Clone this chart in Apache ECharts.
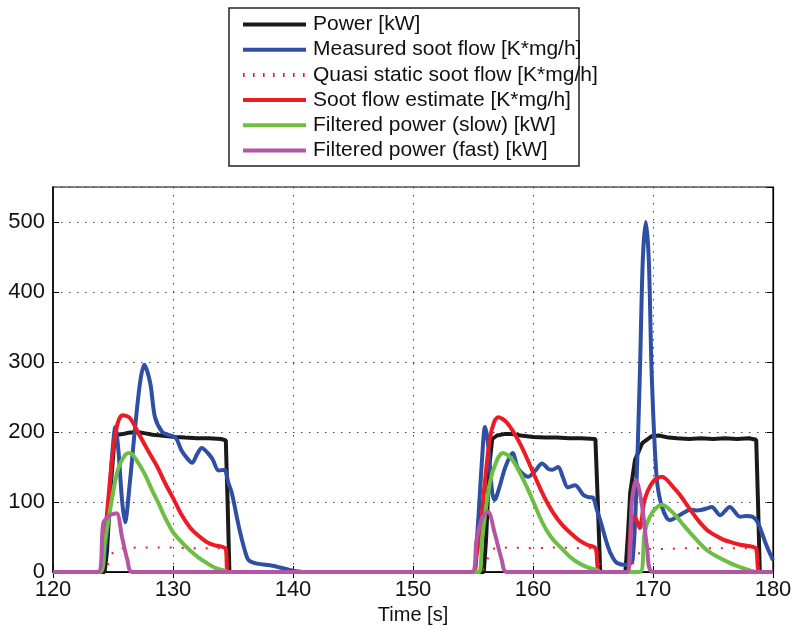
<!DOCTYPE html>
<html>
<head>
<meta charset="utf-8">
<script src="https://cdn.jsdelivr.net/npm/echarts@6/dist/echarts.min.js"></script>
<style>
  html, body { margin: 0; padding: 0; background: #fff; }
  #chart { width: 795px; height: 633px; }
</style>
</head>
<body>
<div id="chart"></div>
<script>
// Soot flow vs. power, time in s
const seriesNames = [
  "Power [kW]",
  "Measured soot flow [K*mg/h]",
  "Quasi static soot flow [K*mg/h]",
  "Soot flow estimate [K*mg/h]",
  "Filtered power (slow) [kW]",
  "Filtered power (fast) [kW]"
];
const xTicks = [120, 130, 140, 150, 160, 170, 180];
const yTicks = [0, 100, 200, 300, 400, 500];

const power = [
  [120, 0], [124.3, 0], [124.5, 30], [124.8, 120], [125.1, 185], [125.4, 196], [125.8, 197],
  [126.3, 199], [127, 200], [127.7, 198], [128.3, 196], [129, 195], [129.6, 194], [130.2, 193],
  [131, 192], [132, 191], [133, 191], [134, 190], [134.4, 188], [134.55, 100], [134.7, 0],
  [155.9, 0], [156.1, 50], [156.35, 150], [156.6, 190], [157, 195], [157.6, 197], [158.3, 197],
  [159, 195], [160, 193], [161, 192], [162, 192], [163, 191], [164, 191], [165.2, 190],
  [165.4, 100], [165.6, 0], [167.7, 0], [167.9, 50], [168.1, 113], [168.5, 160], [169.1, 184],
  [169.9, 194], [170.5, 195], [171.3, 192], [172, 191], [173, 190], [174, 191], [175, 190],
  [176, 191], [177, 190], [178, 191], [178.6, 189], [178.75, 100], [178.9, 0], [180, 0]
];
const measured = [
  [120, 0], [123.9, 0], [124.3, 25], [124.6, 79], [124.9, 160], [125.2, 207], [125.45, 174],
  [125.75, 103], [126, 71], [126.4, 127], [126.8, 199], [127.25, 270], [127.6, 296], [128.1, 270],
  [128.5, 221], [129.1, 200], [129.6, 196], [130, 194], [130.3, 190], [130.7, 174], [131.2, 162],
  [131.6, 156], [132, 168], [132.4, 177], [132.9, 170], [133.3, 161], [133.8, 145], [134.3, 146],
  [134.6, 128], [134.9, 113], [135.3, 80], [135.6, 56], [136, 30], [136.3, 17], [137, 12],
  [138.3, 9], [139.7, 3], [141, 0], [155, 0], [155.3, 41], [155.75, 160], [156, 207],
  [156.25, 184], [156.6, 113], [156.8, 103], [157.2, 121], [157.7, 150], [158.3, 170],
  [158.7, 150], [159.1, 141], [159.6, 136], [160.2, 145], [160.75, 155], [161.3, 147],
  [161.6, 146], [162.1, 150], [162.5, 135], [162.9, 121], [163.5, 124], [164.2, 110],
  [164.6, 107], [165, 106], [165.3, 90], [165.6, 74], [166.25, 36], [166.6, 22], [167, 13],
  [167.8, 10], [168.1, 12], [168.3, 17], [168.55, 89], [168.9, 279], [169.15, 446], [169.4, 500],
  [169.65, 446], [169.9, 279], [170.3, 136], [170.75, 93], [171.4, 74], [172, 79], [172.7, 86],
  [173.1, 89], [173.6, 88], [174.1, 89], [174.5, 91], [174.9, 93], [175.6, 81], [176.4, 93],
  [177.25, 79], [177.8, 80], [178.3, 79], [178.75, 70], [179.5, 36], [180, 17]
];
const quasiStatic = [
  [120, 0], [124.4, 0], [124.6, 12], [124.9, 26], [125.3, 33], [126, 34], [127, 35], [128, 35],
  [129, 35], [130, 35], [131, 34], [132, 34], [133, 34], [134.4, 34], [134.6, 0],
  [155.8, 0], [156.1, 12], [156.4, 28], [156.8, 34], [158, 35], [160, 34], [162, 35], [164, 34],
  [165.4, 34], [165.6, 0], [168.2, 0], [168.4, 18], [168.9, 28], [169.5, 33], [171, 33],
  [173, 34], [175, 34], [177, 34], [178.7, 34], [178.9, 0], [180, 0]
];
const estimate = [
  [120, 0], [123.75, 0], [124.2, 31], [124.6, 103], [125, 174], [125.4, 213], [125.8, 224],
  [126.4, 220], [127.1, 199], [127.9, 174], [128.7, 150], [129.4, 125], [130, 106], [130.7, 82],
  [131.4, 64], [132.1, 52], [132.8, 43], [133.5, 38], [134.1, 36], [134.4, 33], [134.6, 0],
  [155, 0], [155.3, 25], [155.6, 56], [156, 130], [156.4, 190], [156.8, 216], [157.1, 221],
  [157.8, 214], [158.9, 184], [160.3, 131], [161, 105], [161.7, 84], [162.4, 68], [163.1, 56],
  [163.8, 46], [164.5, 39], [165.2, 34], [165.6, 0], [167.9, 0], [168.05, 41], [168.3, 79],
  [168.55, 77], [168.9, 63], [169.3, 103], [170, 129], [170.75, 136], [171.7, 121],
  [172.25, 110], [173.1, 89], [173.8, 73], [174.5, 60], [175.2, 52], [175.9, 46], [176.6, 42],
  [177.25, 39], [178.3, 36], [178.6, 33], [178.9, 0], [180, 0]
];
const filteredSlow = [
  [120, 0], [123.9, 0], [124.3, 41], [124.9, 103], [125.4, 146], [126, 167], [126.4, 170],
  [127.1, 156], [127.7, 138], [128.25, 117], [128.8, 98], [129.3, 79], [130, 57], [130.7, 43],
  [131.4, 31], [132.1, 21], [132.8, 13], [133.5, 6], [134.3, 2], [134.6, 0],
  [155.5, 0], [155.75, 46], [156.4, 127], [157, 160], [157.5, 170], [158.3, 160], [159.5, 121],
  [160.8, 70], [161.5, 50], [162.25, 36], [163, 23], [163.7, 14], [164.5, 7], [165.3, 3],
  [165.6, 0], [168.9, 0], [169.3, 56], [169.9, 84], [170.75, 96], [171.7, 84], [172.4, 70],
  [173.1, 56], [174.5, 31], [175.9, 17], [177.25, 7], [178.7, 0], [180, 0]
];
const filteredFast = [
  [120, 0], [123.75, 0], [124.2, 70], [124.75, 81], [125.3, 84], [125.75, 50], [126.2, 17],
  [126.6, 0], [154.9, 0], [155.3, 46], [155.75, 77], [156.25, 86], [156.8, 56], [157.4, 17],
  [157.8, 0], [167.8, 0], [168.25, 103], [168.6, 131], [169.1, 93], [169.5, 36], [170, 0],
  [180, 0]
];

const colors = ["#1a1a1a", "#2e4fa3", "#ed1c24", "#ed1c24", "#6cbe45", "#b455a5"];
const seriesData = [power, measured, quasiStatic, estimate, filteredSlow, filteredFast];

// legend glyphs: a solid bar and a row of short ticks
const solidIcon = "path://M0,0L63,0L63,4L0,4Z";
let dotted = "path://";
for (let x = 0; x < 63; x += 10) dotted += "M" + x + ",0h1.6v4h-1.6Z";
dotted += "M62.9,0h0.1v4h-0.1Z";

const chart = echarts.init(document.getElementById("chart"));
const font = "Liberation Sans, Arial, Helvetica, sans-serif";
const gridLine = { show: true, lineStyle: { color: "#444", type: [1.5, 6.5], width: 1 } };

const option = {
  animation: false,
  backgroundColor: "#fff",
  grid: { left: 53, right: 22, top: 187, bottom: 61, show: true, borderColor: "#000", borderWidth: 1.2 },
  // legend frame is fixed (the longest entry runs past it, as in the original)
  graphic: [{
    type: "rect",
    shape: { x: 229, y: 8, width: 350, height: 158 },
    style: { fill: null, stroke: "#222", lineWidth: 1.5 },
    silent: true
  }],
  legend: {
    orient: "vertical",
    left: 243,
    top: 14,
    padding: 0,
    itemWidth: 63,
    itemHeight: 21,
    itemGap: 4.2,
    symbolKeepAspect: true,
    textStyle: { fontFamily: font, fontSize: 21, color: "#111", lineHeight: 21, padding: [0, 0, 0, 2] },
    data: seriesNames.map((n, i) => ({ name: n, icon: i === 2 ? dotted : solidIcon }))
  },
  xAxis: [
    {
      type: "value", min: xTicks[0], max: xTicks[xTicks.length - 1], interval: 10,
      name: "Time [s]", nameLocation: "middle", nameGap: 30,
      nameTextStyle: { fontFamily: font, fontSize: 20, color: "#111" },
      axisLine: { lineStyle: { color: "#000", width: 1.5 } },
      axisTick: { inside: true, length: 6, lineStyle: { color: "#000" } },
      axisLabel: { fontFamily: font, fontSize: 22, color: "#111", margin: 7 },
      splitLine: gridLine
    },
    {
      type: "value", position: "top", min: xTicks[0], max: xTicks[xTicks.length - 1], interval: 10,
      axisLine: { lineStyle: { color: "#000", width: 1.2 } },
      axisTick: { inside: true, length: 6, lineStyle: { color: "#000" } },
      axisLabel: { show: false }, splitLine: { show: false }
    }
  ],
  yAxis: [
    {
      type: "value", min: 0, max: 550, interval: 100,
      axisLine: { show: true, lineStyle: { color: "#000", width: 1.5 } },
      axisTick: { show: true, inside: true, length: 6, lineStyle: { color: "#000" } },
      axisLabel: {
        fontFamily: font, fontSize: 22, color: "#111", margin: 8, showMaxLabel: false,
        formatter: v => (yTicks.indexOf(v) >= 0 ? String(v) : "")
      },
      splitLine: gridLine
    },
    {
      type: "value", position: "right", min: 0, max: 550, interval: 100,
      axisLine: { show: true, lineStyle: { color: "#000", width: 1.2 } },
      axisTick: { show: true, inside: true, length: 6, lineStyle: { color: "#000" } },
      axisLabel: { show: false }, splitLine: { show: false }
    }
  ],
  series: seriesNames.map((name, i) => ({
    name: name,
    type: "line",
    data: seriesData[i],
    xAxisIndex: 0,
    yAxisIndex: 0,
    symbol: "none",
    smooth: i === 0 || i === 2 ? false : 0.3,
    color: colors[i],
    itemStyle: { color: colors[i] },
    lineStyle: i === 2
      ? { color: colors[i], width: 2, type: [2, 10] }
      : { color: colors[i], width: 4 }
  }))
};
chart.setOption(option);
</script>
</body>
</html>
